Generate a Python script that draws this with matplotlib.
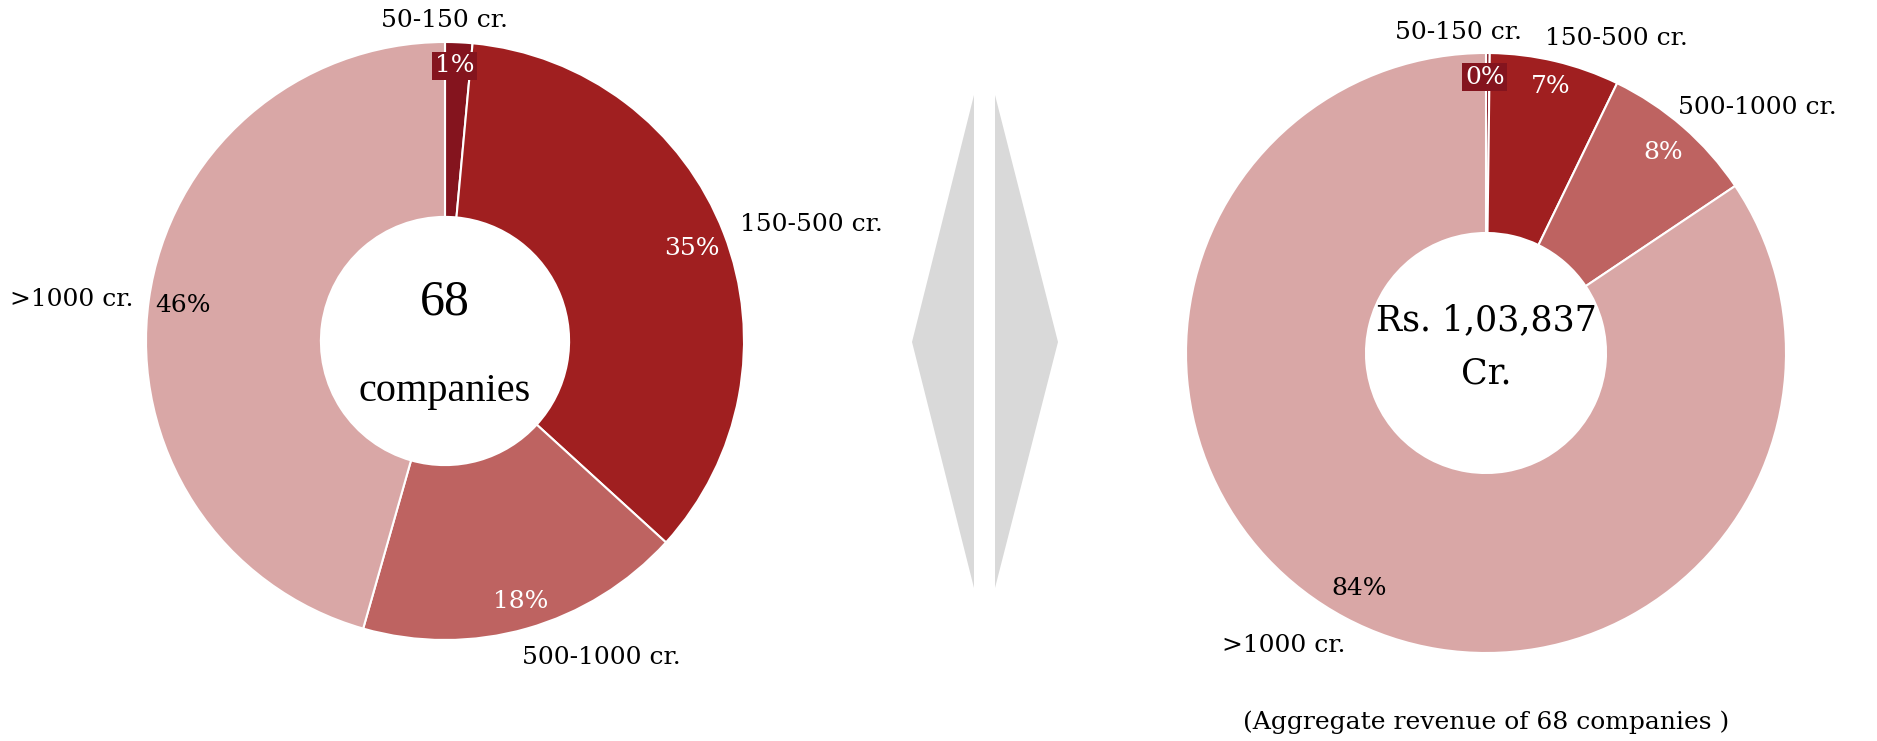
import numpy as np
import matplotlib.pyplot as plt
from matplotlib.patches import Polygon

# company counts per revenue band (68 companies in total)
bands = ['50-150 cr.', '150-500 cr.', '500-1000 cr.', '>1000 cr.']
company_counts = [1, 24, 12, 31]
# share of aggregate revenue per band, %
revenue_share = [0.2, 7.0, 8.4, 84.4]

colors = ['#84141e', '#a01f20', '#be6361', '#d9a7a6']
pct_colors = ['white', 'white', 'white', 'black']

serif = 'DejaVu Serif'

W, H = 1877, 741
fig = plt.figure(figsize=(W / 100, H / 100), dpi=100)


def px_axes(cx, cy, r):
    # axes square centred on (cx, cy) in pixel coords from top-left
    return fig.add_axes([(cx - r) / W, (H - cy - r) / H, 2 * r / W, 2 * r / H])


def donut(ax, values, pct_pos, lab_pos, hole):
    wedges, texts, autotexts = ax.pie(
        values, colors=colors, startangle=90, counterclock=False,
        radius=1, autopct='%.0f%%', labels=bands,
        wedgeprops=dict(width=1 - hole, edgecolor='white', linewidth=1.5),
        textprops=dict(fontfamily=serif, fontsize=18))
    for t, pos, c in zip(autotexts, pct_pos, pct_colors):
        t.set_position(pos)
        t.set_color(c)
        t.set_ha('center')
        t.set_va('center')
    # the tiny first slice gets a boxed label
    autotexts[0].set_bbox(dict(facecolor=colors[0], edgecolor='none', pad=2))
    for t, pos in zip(texts, lab_pos):
        t.set_position(pos)
        t.set_ha('center')
        t.set_va('center')
    ax.set_xlim(-1, 1)
    ax.set_ylim(-1, 1)
    ax.set_aspect('equal')
    ax.axis('off')


ax1 = px_axes(445, 341, 299)
donut(ax1, company_counts,
      pct_pos=[(0.032, 0.92), (0.824, 0.308), (0.252, -0.872), (-0.876, 0.12)],
      lab_pos=[(0.0, 1.072), (1.224, 0.388), (0.524, -1.06), (-1.248, 0.14)],
      hole=0.415)
ax1.text(0, 0.13, str(sum(company_counts)), ha='center', va='center',
         fontsize=36, fontfamily='Liberation Serif')
ax1.text(0, -0.17, 'companies', ha='center', va='center',
         fontsize=29, fontfamily='Liberation Serif')

ax2 = px_axes(1486, 353, 300)
donut(ax2, revenue_share,
      pct_pos=[(-0.004, 0.92), (0.215, 0.888), (0.59, 0.669), (-0.422, -0.785)],
      lab_pos=[(-0.092, 1.068), (0.434, 1.048), (0.904, 0.817), (-0.673, -0.976)],
      hole=0.40)
ax2.text(0, 0.11, 'Rs. 1,03,837', ha='center', va='center',
         fontsize=25, fontfamily=serif)
ax2.text(0, -0.07, 'Cr.', ha='center', va='center',
         fontsize=25, fontfamily=serif)
ax2.text(0, -1.23, '(Aggregate revenue of %d companies )' % sum(company_counts),
         ha='center', va='center', fontsize=18, fontfamily=serif)

# grey split-diamond divider between the two donuts
bg = fig.add_axes([0, 0, 1, 1])
bg.set_xlim(0, W)
bg.set_ylim(H, 0)
bg.axis('off')
bg.add_patch(Polygon([(974, 95), (912, 342), (974, 588)], closed=True,
                     facecolor='#d9d9d9', edgecolor='none'))
bg.add_patch(Polygon([(995, 95), (1058, 342), (995, 588)], closed=True,
                     facecolor='#d9d9d9', edgecolor='none'))

fig.savefig('out.png', dpi=100, facecolor='white')
